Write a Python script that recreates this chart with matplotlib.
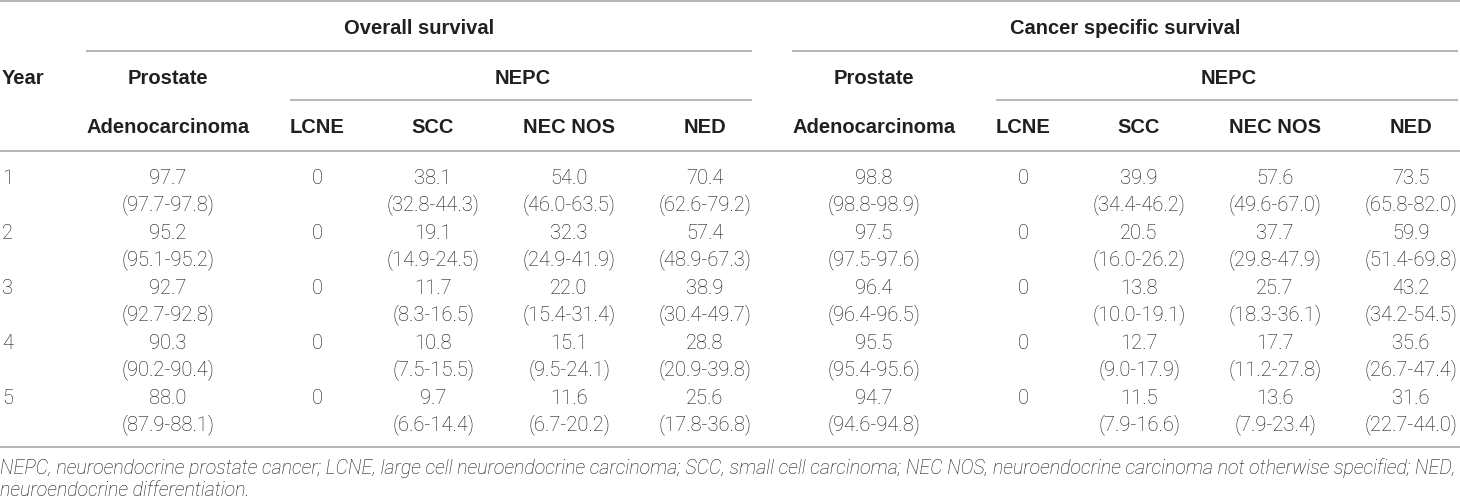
import matplotlib
matplotlib.use("Agg")
import matplotlib.pyplot as plt

# ---------------- data ----------------
years = [1, 2, 3, 4, 5]
lcne_os = [0, 0, 0, 0, 0]
lcne_css = [0, 0, 0, 0, 0]

os_adeno = [97.7, 95.2, 92.7, 90.3, 88.0]
os_adeno_lo = [97.7, 95.1, 92.7, 90.2, 87.9]
os_adeno_hi = [97.8, 95.2, 92.8, 90.4, 88.1]
os_scc = [38.1, 19.1, 11.7, 10.8, 9.7]
os_scc_lo = [32.8, 14.9, 8.3, 7.5, 6.6]
os_scc_hi = [44.3, 24.5, 16.5, 15.5, 14.4]
os_nec = [54.0, 32.3, 22.0, 15.1, 11.6]
os_nec_lo = [46.0, 24.9, 15.4, 9.5, 6.7]
os_nec_hi = [63.5, 41.9, 31.4, 24.1, 20.2]
os_ned = [70.4, 57.4, 38.9, 28.8, 25.6]
os_ned_lo = [62.6, 48.9, 30.4, 20.9, 17.8]
os_ned_hi = [79.2, 67.3, 49.7, 39.8, 36.8]

css_adeno = [98.8, 97.5, 96.4, 95.5, 94.7]
css_adeno_lo = [98.8, 97.5, 96.4, 95.4, 94.6]
css_adeno_hi = [98.9, 97.6, 96.5, 95.6, 94.8]
css_scc = [39.9, 20.5, 13.8, 12.7, 11.5]
css_scc_lo = [34.4, 16.0, 10.0, 9.0, 7.9]
css_scc_hi = [46.2, 26.2, 19.1, 17.9, 16.6]
css_nec = [57.6, 37.7, 25.7, 17.7, 13.6]
css_nec_lo = [49.6, 29.8, 18.3, 11.2, 7.9]
css_nec_hi = [67.0, 47.9, 36.1, 27.8, 23.4]
css_ned = [73.5, 59.9, 43.2, 35.6, 31.6]
css_ned_lo = [65.8, 51.4, 34.2, 26.7, 22.7]
css_ned_hi = [82.0, 69.8, 54.5, 47.4, 44.0]

group_titles = ["Overall survival", "Cancer specific survival"]
sub_cols = ["LCNE", "SCC", "NEC NOS", "NED"]
footnote = ["NEPC, neuroendocrine prostate cancer; LCNE, large cell neuroendocrine carcinoma; "
            "SCC, small cell carcinoma; NEC NOS, neuroendocrine carcinoma not otherwise specified; NED,",
            "neuroendocrine differentiation."]

# ---------------- layout ----------------
W, H = 1460, 500
fig = plt.figure(figsize=(W / 100, H / 100), dpi=100)
ax = fig.add_axes([0, 0, 1, 1])
ax.set_xlim(0, W)
ax.set_ylim(H, 0)
ax.axis("off")

TXT = "#111111"
HTXT = "#231f20"
LINE = "#a3a3a3"
LW = 1.1
BODY = dict(family=["Roboto", "Liberation Sans", "DejaVu Sans"], fontweight="light", color=TXT)
HEAD = dict(family=["Liberation Sans", "DejaVu Sans"], fontweight="bold", color=HTXT)
FS = 14.5
HFS = 14.5

def base(yc, fs):
    return yc + 0.36 * fs * 100 / 72

def hline(x0, x1, y):
    ax.plot([x0, x1], [y, y], color=LINE, lw=LW, solid_capstyle="butt")

group_offset = [0, 706]
col_x = [168, 317, 433, 569, 705]  # adeno, lcne, scc, nec, ned centres (left block)

# rules
hline(0, W, 1)
hline(0, W, 151)
hline(0, W, 447)
for off in group_offset:
    hline(86 + off, min(752 + off, W), 51)
    hline(290 + off, min(752 + off, W), 100)

# header texts
ax.text(2, base(77, HFS), "Year", ha="left", va="baseline", fontsize=HFS, **HEAD)
for g, off in enumerate(group_offset):
    ax.text(419 + off, base(27, HFS), group_titles[g], ha="center", va="baseline", fontsize=HFS, **HEAD)
    ax.text(col_x[0] + off, base(77, HFS), "Prostate", ha="center", va="baseline", fontsize=HFS, **HEAD)
    ax.text(523 + off, base(77, HFS), "NEPC", ha="center", va="baseline", fontsize=HFS, **HEAD)
    ax.text(col_x[0] + off, base(126, HFS), "Adenocarcinoma", ha="center", va="baseline", fontsize=HFS, **HEAD)
    for j, name in enumerate(sub_cols):
        ax.text(col_x[j + 1] + off, base(126, HFS), name, ha="center", va="baseline", fontsize=HFS, **HEAD)

# body
blocks = [
    [(os_adeno, os_adeno_lo, os_adeno_hi), (lcne_os, None, None), (os_scc, os_scc_lo, os_scc_hi),
     (os_nec, os_nec_lo, os_nec_hi), (os_ned, os_ned_lo, os_ned_hi)],
    [(css_adeno, css_adeno_lo, css_adeno_hi), (lcne_css, None, None), (css_scc, css_scc_lo, css_scc_hi),
     (css_nec, css_nec_lo, css_nec_hi), (css_ned, css_ned_lo, css_ned_hi)],
]
ROW0, STEP, CI_OFF = 177, 55, 26
for i, yr in enumerate(years):
    yv = ROW0 + i * STEP
    ax.text(2, base(yv, FS), str(yr), ha="left", va="baseline", fontsize=FS, **BODY)
    for g, off in enumerate(group_offset):
        for j, (vals, lo, hi) in enumerate(blocks[g]):
            x = col_x[j] + off
            v = vals[i]
            s = f"{v:.1f}" if lo is not None else f"{v:d}"
            ax.text(x, base(yv, FS), s, ha="center", va="baseline", fontsize=FS, **BODY)
            if lo is not None:
                ax.text(x, base(yv + CI_OFF, FS), f"({lo[i]:.1f}-{hi[i]:.1f})",
                        ha="center", va="baseline", fontsize=FS, **BODY)

# footnote (fit first line to table width)
FOOT = dict(family=["Roboto", "Liberation Sans", "DejaVu Sans"], fontweight="light",
            style="italic", color=TXT)
t1 = ax.text(0, 0, footnote[0], ha="left", va="baseline", fontsize=12, **FOOT)
fig.canvas.draw()
wpx = t1.get_window_extent(fig.canvas.get_renderer()).width
ffs = 12 * 1456 / wpx
t1.set_fontsize(ffs)
t1.set_position((0, base(467, ffs)))
ax.text(0, base(489, ffs), footnote[1], ha="left", va="baseline", fontsize=ffs, **FOOT)

fig.savefig("out.png", dpi=100)
